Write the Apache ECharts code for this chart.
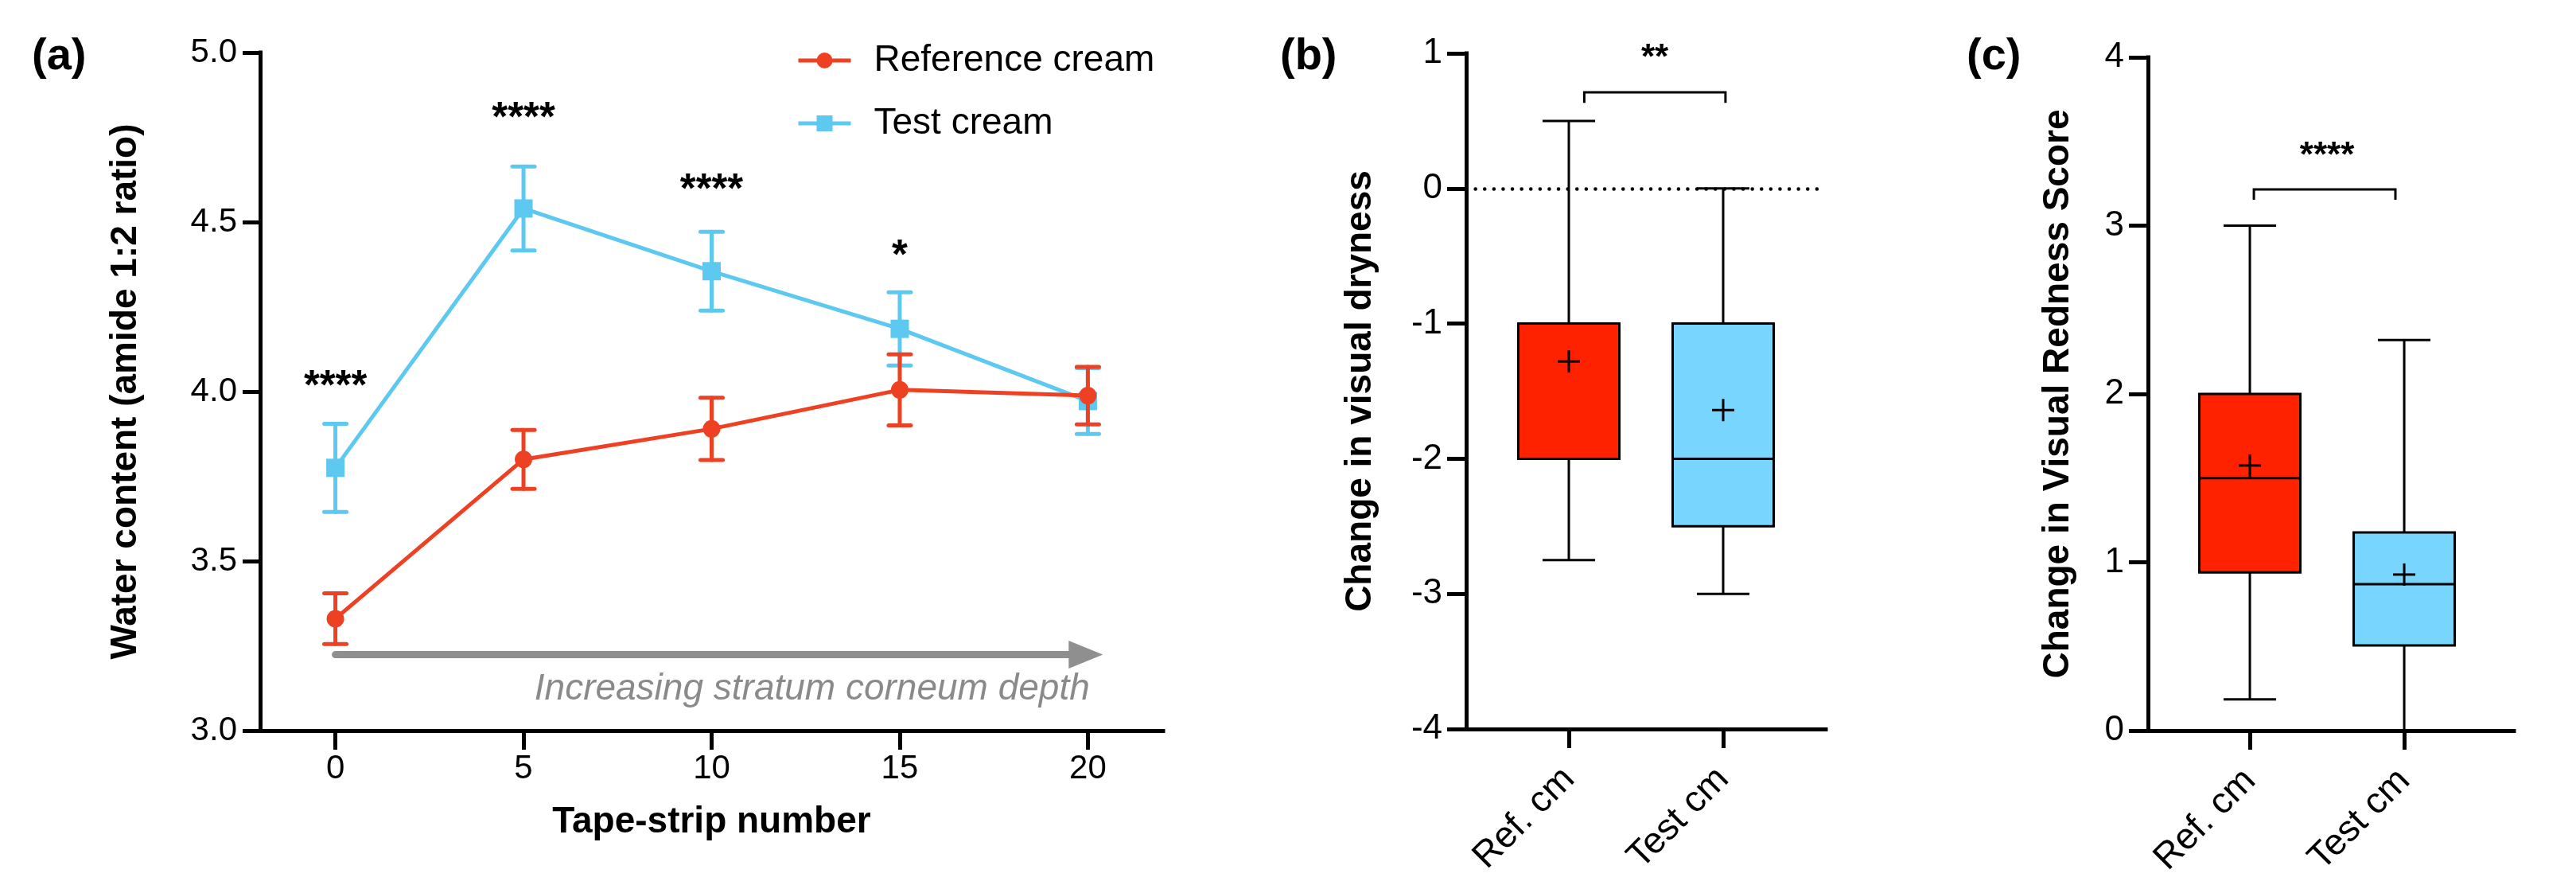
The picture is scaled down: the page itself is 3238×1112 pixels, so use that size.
<!DOCTYPE html>
<html><head><meta charset="utf-8">
<script src="https://cdn.jsdelivr.net/npm/echarts@6/dist/echarts.min.js"></script>
<style>html,body{margin:0;padding:0;background:#fff}#c{width:3238px;height:1112px}</style>
</head><body><div id="c"></div>
<script>
// ---------- Panel (a) data ----------
const tapeStrips = [0, 5, 10, 15, 20];
const refMean = [3.33, 3.80, 3.89, 4.005, 3.988];
const refErr = [0.075, 0.087, 0.092, 0.105, 0.085];
const testMean = [3.775, 4.54, 4.355, 4.185, 3.972];
const testErr = [0.13, 0.124, 0.116, 0.108, 0.097];
const sigAX = [0, 5, 10, 15];
const sigAY = [4.04, 4.83, 4.62, 4.425];
const sigALabels = ['****', '****', '****', '*'];
const arrowX = [0, 20.4];
const arrowY = 3.224;
const depthText = 'Increasing stratum corneum depth';
const depthTextPos = [20.05, 3.068];

// ---------- Panel (b)/(c) data ----------
const boxCategories = ['Ref. cm', 'Test cm'];
// [min, Q1, median, Q3, max]
const drynessBox = [[-2.75, -2, -1, -1, 0.5], [-3, -2.5, -2, -1, 0]];
const drynessMean = [-1.28, -1.64];
const drynessBracket = [[0.10, 0.634], [0.10, 0.711], [1.015, 0.711], [1.015, 0.634]];
const drynessSig = ['**', 0.557, 1.02];
const rednessBox = [[0.185, 0.94, 1.5, 2.0, 3.0], [0, 0.506, 0.87, 1.177, 2.32]];
const rednessMean = [1.575, 0.927];
const rednessBracket = [[0.026, 3.154], [0.026, 3.215], [0.943, 3.215], [0.943, 3.154]];
const rednessSig = ['****', 0.50, 3.456];

const FONT = '"Liberation Sans", Arial, Helvetica, sans-serif';
const RED_LINE = '#EE4123', BLUE_LINE = '#5DC9F0';
const RED_BOX = '#FF2200', BLUE_BOX = '#77D5FE';

const chart = echarts.init(document.getElementById('c'), null, {renderer: 'canvas', width: 3238, height: 1112});

function axisLineStyle() { return {show: true, onZero: false, lineStyle: {color: '#000', width: 5, cap: 'square'}}; }
function tickStyle(len, custom) {
  const t = {show: true, length: len, lineStyle: {color: '#000', width: 5}};
  if (custom) t.customValues = custom;
  return t;
}
function labelStyle(size, margin, extra) {
  return Object.assign({color: '#000', fontSize: size, fontFamily: FONT, margin: margin}, extra || {});
}
function nameStyle() { return {color: '#000', fontSize: 46, fontWeight: 'bold', fontFamily: FONT}; }

function errorBarItem(color) {
  return function (params, api) {
    const x = api.value(0), lo = api.value(1), hi = api.value(2);
    const pLo = api.coord([x, lo]), pHi = api.coord([x, hi]);
    const hw = 14;
    const style = {stroke: color, lineWidth: 5, lineCap: 'round'};
    return {type: 'group', children: [
      {type: 'line', shape: {x1: pLo[0], y1: pLo[1], x2: pHi[0], y2: pHi[1]}, style: style},
      {type: 'line', shape: {x1: pLo[0] - hw, y1: pLo[1], x2: pLo[0] + hw, y2: pLo[1]}, style: style},
      {type: 'line', shape: {x1: pHi[0] - hw, y1: pHi[1], x2: pHi[0] + hw, y2: pHi[1]}, style: style}
    ]};
  };
}

function boxItem(fills, means) {
  return function (params, api) {
    const i = api.value(0);
    const mn = api.value(1), q1 = api.value(2), md = api.value(3), q3 = api.value(4), mx = api.value(5);
    const pMin = api.coord([i, mn]), pQ1 = api.coord([i, q1]), pMd = api.coord([i, md]);
    const pQ3 = api.coord([i, q3]), pMax = api.coord([i, mx]), pMean = api.coord([i, means[i]]);
    const cx = pMd[0], hb = 63.5, hc = 33, hp = 14;
    const ln = {stroke: '#000', lineWidth: 3};
    return {type: 'group', children: [
      {type: 'line', shape: {x1: cx, y1: pQ3[1], x2: cx, y2: pMax[1]}, style: ln},
      {type: 'line', shape: {x1: cx, y1: pQ1[1], x2: cx, y2: pMin[1]}, style: ln},
      {type: 'line', shape: {x1: cx - hc, y1: pMax[1], x2: cx + hc, y2: pMax[1]}, style: ln},
      {type: 'line', shape: {x1: cx - hc, y1: pMin[1], x2: cx + hc, y2: pMin[1]}, style: ln},
      {type: 'rect', shape: {x: cx - hb, y: pQ3[1], width: 2 * hb, height: pQ1[1] - pQ3[1]},
        style: {fill: fills[i], stroke: '#000', lineWidth: 3}},
      {type: 'line', shape: {x1: cx - hb, y1: pMd[1], x2: cx + hb, y2: pMd[1]}, style: ln},
      {type: 'line', shape: {x1: cx - hp, y1: pMean[1], x2: cx + hp, y2: pMean[1]}, style: ln},
      {type: 'line', shape: {x1: cx, y1: pMean[1] - hp, x2: cx, y2: pMean[1] + hp}, style: ln}
    ]};
  };
}

function sigText(text, x, y, size) {
  return {type: 'text', x: x, y: y + 0.23 * size,
    style: {text: text, fill: '#000', fontSize: size, fontWeight: 'bold', fontFamily: FONT, align: 'center', verticalAlign: 'middle'}};
}

function bracketItem(points, sig) {
  return function (params, api) {
    const pts = points.map(p => api.coord(p));
    const s = api.coord([sig[1], sig[2]]);
    return {type: 'group', children: [
      {type: 'polyline', shape: {points: pts}, style: {stroke: '#000', lineWidth: 3, fill: null}},
      sigText(sig[0], s[0], s[1], 44)
    ]};
  };
}

const option = {
  backgroundColor: '#fff',
  animation: false,
  textStyle: {fontFamily: FONT},
  grid: [
    {left: 327, top: 66, width: 1135, height: 852},
    {left: 1843, top: 67, width: 452, height: 849},
    {left: 2700, top: 72, width: 460, height: 846}
  ],
  legend: {
    left: 1001, top: 51, padding: 0, orient: 'vertical', itemWidth: 66, itemHeight: 25, itemGap: 29,
    data: ['Reference cream', 'Test cream'],
    lineStyle: {width: 5},
    textStyle: {fontSize: 46, lineHeight: 50, color: '#000', fontFamily: FONT, padding: [0, 0, 0, 24]}
  },
  xAxis: [
    {gridIndex: 0, type: 'value', min: -2, max: 22,
      axisLine: axisLineStyle(), axisTick: tickStyle(24, tapeStrips),
      axisLabel: labelStyle(42, 27, {customValues: tapeStrips}), splitLine: {show: false},
      name: 'Tape-strip number', nameLocation: 'middle', nameGap: 92, nameTextStyle: nameStyle()},
    {gridIndex: 1, type: 'value', min: -0.665, max: 1.665,
      axisLine: axisLineStyle(), axisTick: tickStyle(24, [0, 1]),
      axisLabel: labelStyle(46, 56, {customValues: [0, 1], rotate: 45, formatter: v => boxCategories[Math.round(v)]}),
      splitLine: {show: false}},
    {gridIndex: 2, type: 'value', min: -0.66, max: 1.711,
      axisLine: axisLineStyle(), axisTick: tickStyle(24, [0, 1]),
      axisLabel: labelStyle(46, 56, {customValues: [0, 1], rotate: 45, formatter: v => boxCategories[Math.round(v)]}),
      splitLine: {show: false}}
  ],
  yAxis: [
    {gridIndex: 0, type: 'value', min: 3, max: 5, interval: 0.5,
      axisLine: axisLineStyle(), axisTick: tickStyle(22),
      axisLabel: labelStyle(42, 29, {formatter: v => v.toFixed(1)}), splitLine: {show: false},
      name: 'Water content (amide 1:2 ratio)', nameLocation: 'middle', nameGap: 146, nameTextStyle: nameStyle()},
    {gridIndex: 1, type: 'value', min: -4, max: 1, interval: 1,
      axisLine: axisLineStyle(), axisTick: tickStyle(24),
      axisLabel: labelStyle(44, 30), splitLine: {show: false},
      name: 'Change in visual dryness', nameLocation: 'middle', nameGap: 110, nameTextStyle: nameStyle()},
    {gridIndex: 2, type: 'value', min: 0, max: 4, interval: 1,
      axisLine: axisLineStyle(), axisTick: tickStyle(24),
      axisLabel: labelStyle(44, 30), splitLine: {show: false},
      name: 'Change in Visual Redness Score', nameLocation: 'middle', nameGap: 90, nameTextStyle: nameStyle()}
  ],
  graphic: [
    {type: 'text', left: 40, top: 44, style: {text: '(a)', fontSize: 56, fontWeight: 'bold', fontFamily: FONT, fill: '#000'}},
    {type: 'text', left: 1609, top: 44, style: {text: '(b)', fontSize: 56, fontWeight: 'bold', fontFamily: FONT, fill: '#000'}},
    {type: 'text', left: 2472, top: 44, style: {text: '(c)', fontSize: 56, fontWeight: 'bold', fontFamily: FONT, fill: '#000'}}
  ],
  series: [
    // Panel (a) annotations: arrow + text + significance
    {type: 'custom', name: 'annot', xAxisIndex: 0, yAxisIndex: 0, clip: false, silent: true, z: 1,
      data: [[0, 0]],
      renderItem: function (params, api) {
        const pS = api.coord([arrowX[0], arrowY]), pE = api.coord([arrowX[1], arrowY]);
        const headL = 43, headH = 17.5;
        const pT = api.coord(depthTextPos);
        const children = [
          {type: 'line', shape: {x1: pS[0], y1: pS[1], x2: pE[0] - headL + 2, y2: pE[1]},
            style: {stroke: '#8F8F8F', lineWidth: 9, lineCap: 'round'}},
          {type: 'polygon', shape: {points: [[pE[0] - headL, pE[1] - headH], [pE[0], pE[1]], [pE[0] - headL, pE[1] + headH]]},
            style: {fill: '#8F8F8F'}},
          {type: 'text', x: pT[0], y: pT[1],
            style: {text: depthText, fill: '#8A8A8A', fontSize: 46, fontStyle: 'italic', fontFamily: FONT, align: 'right', verticalAlign: 'bottom'}}
        ];
        sigAX.forEach((x, k) => {
          const p = api.coord([x, sigAY[k]]);
          children.push(sigText(sigALabels[k], p[0], p[1], 51));
        });
        return {type: 'group', children: children};
      }},
    {type: 'custom', name: 'Test err', xAxisIndex: 0, yAxisIndex: 0, clip: false, z: 2,
      data: tapeStrips.map((x, i) => [x, testMean[i] - testErr[i], testMean[i] + testErr[i]]),
      renderItem: errorBarItem(BLUE_LINE)},
    {type: 'line', name: 'Test cream', xAxisIndex: 0, yAxisIndex: 0, z: 3,
      data: tapeStrips.map((x, i) => [x, testMean[i]]),
      symbol: 'rect', symbolSize: 23, lineStyle: {color: BLUE_LINE, width: 5}, itemStyle: {color: BLUE_LINE}},
    {type: 'custom', name: 'Ref err', xAxisIndex: 0, yAxisIndex: 0, clip: false, z: 4,
      data: tapeStrips.map((x, i) => [x, refMean[i] - refErr[i], refMean[i] + refErr[i]]),
      renderItem: errorBarItem(RED_LINE)},
    {type: 'line', name: 'Reference cream', xAxisIndex: 0, yAxisIndex: 0, z: 5,
      data: tapeStrips.map((x, i) => [x, refMean[i]]),
      symbol: 'circle', symbolSize: 22, lineStyle: {color: RED_LINE, width: 5}, itemStyle: {color: RED_LINE}},
    // Panel (b)
    {type: 'custom', name: 'dryness', xAxisIndex: 1, yAxisIndex: 1, clip: false, z: 3,
      data: drynessBox.map((b, i) => [i].concat(b)),
      renderItem: boxItem([RED_BOX, BLUE_BOX], drynessMean),
      markLine: {silent: true, symbol: 'none', label: {show: false}, z: 2,
        lineStyle: {color: '#000', width: 4.5, type: [0.1, 11.5], cap: 'round'},
        data: [{yAxis: 0}]}},
    {type: 'custom', name: 'dryness sig', xAxisIndex: 1, yAxisIndex: 1, clip: false, z: 3,
      data: [[0, 0]], renderItem: bracketItem(drynessBracket, drynessSig)},
    // Panel (c)
    {type: 'custom', name: 'redness', xAxisIndex: 2, yAxisIndex: 2, clip: false, z: 3,
      data: rednessBox.map((b, i) => [i].concat(b)),
      renderItem: boxItem([RED_BOX, BLUE_BOX], rednessMean)},
    {type: 'custom', name: 'redness sig', xAxisIndex: 2, yAxisIndex: 2, clip: false, z: 3,
      data: [[0, 0]], renderItem: bracketItem(rednessBracket, rednessSig)}
  ]
};
chart.setOption(option);
</script>
</body></html>
